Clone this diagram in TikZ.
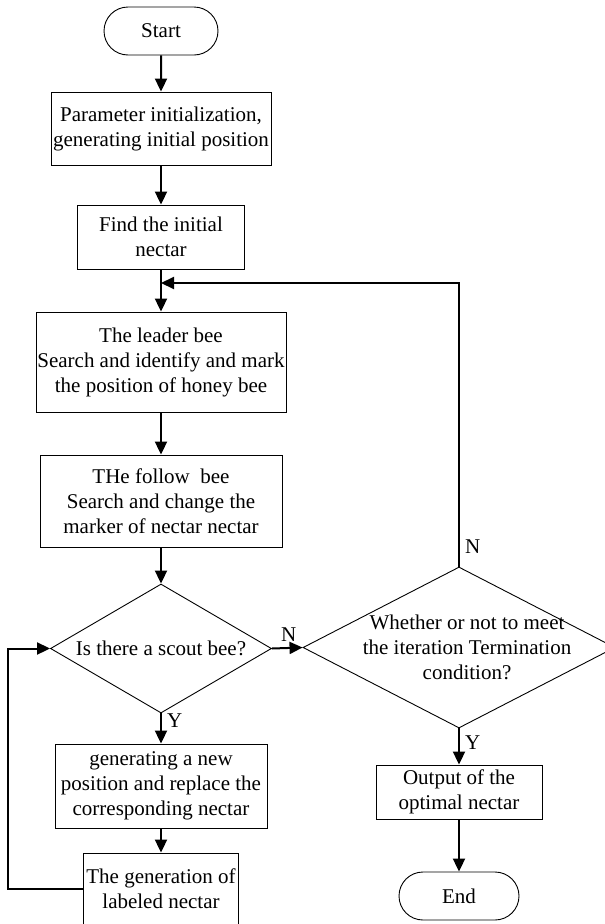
\documentclass[tikz,border=0pt]{standalone}
\usepackage{fontspec}
\setmainfont{Liberation Serif}
\usetikzlibrary{shapes.geometric, shapes.misc, arrows.meta}

\begin{document}
\begin{tikzpicture}[x=1pt, y=-1pt,
  font=\fontsize{21}{25}\selectfont,
  every node/.style={inner sep=0pt, align=center},
  box/.style={draw, line width=0.9pt, rectangle},
  term/.style={draw, line width=0.9pt, rounded rectangle, minimum width=114pt, minimum height=48pt},
  decision/.style={draw, line width=0.9pt, diamond},
  arr/.style={line width=2pt, -{Triangle[length=13pt, width=12pt]}},
  yn/.style={inner sep=5pt}
]
\useasboundingbox (0,0) rectangle (605,924);

% Main column
\node[term] (start) at (161,31) {Start};
\node[box, minimum width=220pt, minimum height=73pt] (param) at (161,128.5) {Parameter initialization,\\generating initial position};
\node[box, minimum width=167pt, minimum height=64pt] (find) at (161,237) {Find the initial\\nectar};
\node[box, minimum width=250pt, minimum height=100pt] (leader) at (161,362) {The leader bee\\Search and identify and mark\\the position of honey bee};
\node[box, minimum width=242pt, minimum height=92pt] (follow) at (161,501) {THe follow\ \ bee\\Search and change the\\marker of nectar nectar};
\node[decision, minimum width=221pt, minimum height=129pt, label={center:Is there a scout bee?}] (scout) at (161,648.5) {};
\node[box, minimum width=212pt, minimum height=84pt] (newpos) at (161,786) {generating a new\\position and replace the\\corresponding nectar};
\node[box, minimum width=155pt, minimum height=72pt] (labeled) at (161,889) {The generation of\\labeled nectar};

% Right column
\node[decision, minimum width=312pt, minimum height=161pt, label={[xshift=8pt]center:Whether or not to meet\\the iteration Termination\\condition?}] (cond) at (459,647.5) {};
\node[box, minimum width=166pt, minimum height=54pt] (output) at (459,792) {Output of the\\optimal nectar};
\node[term, minimum width=120pt] (end) at (459,896) {End};

\coordinate (merge) at (161,283);
\coordinate (leftrail) at (8,0);

% Connectors
\draw[arr] (start) -- (param);
\draw[arr] (param) -- (find);
\draw[arr] (find) -- (leader);
\draw[arr] (leader) -- (follow);
\draw[arr] (follow) -- (scout);
\draw[arr] (scout) -- node[yn, right, pos=0.25] {Y} (newpos);
\draw[arr] (newpos) -- (labeled);
\draw[arr] (labeled.west) -- (labeled.west -| leftrail) |- (scout.west);
\draw[arr] (scout.east) -- node[yn, above, pos=0.55] {N} (cond.west);
\draw[arr] (cond.north) |- node[yn, right, pos=0.035] {N} (merge);
\draw[arr] (cond) -- node[yn, right, pos=0.38] {Y} (output);
\draw[arr] (output) -- (end);
\end{tikzpicture}
\end{document}
